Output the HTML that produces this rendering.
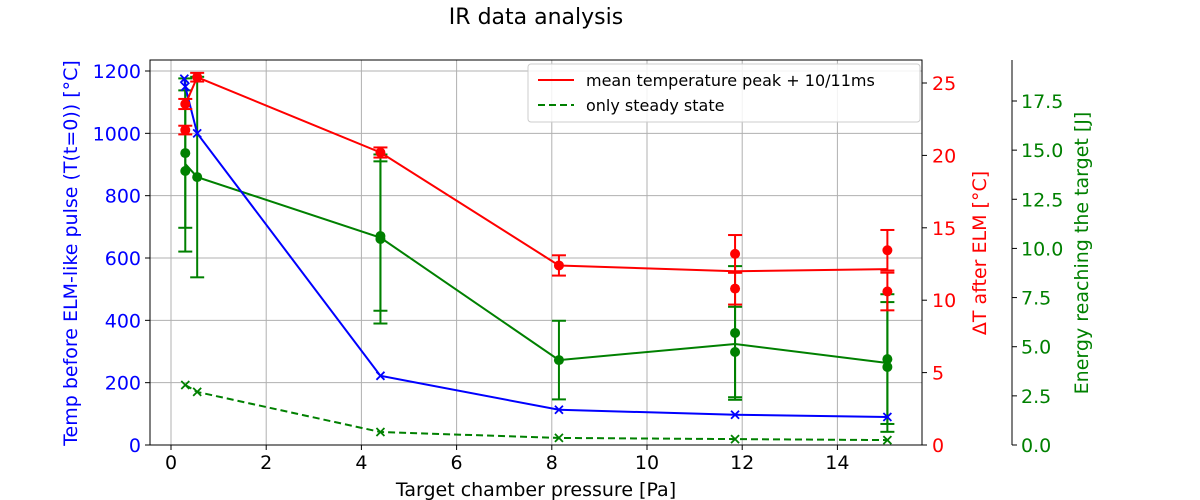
<!DOCTYPE html>
<html><head><meta charset="utf-8"><style>
html,body{margin:0;padding:0;background:#fff;}
svg{display:block;font-family:"DejaVu Sans","Liberation Sans",sans-serif;}
</style></head><body>
<svg id="chart" width="1200" height="500" viewBox="0 0 1200 500" xmlns="http://www.w3.org/2000/svg">
<text x="536" y="24" text-anchor="middle" font-size="22">IR data analysis</text>
<g id="grid"></g>
<g id="marks"></g>
<g id="axes"></g>
<g>
<rect x="528" y="64" width="392" height="58" rx="3" fill="#fff" fill-opacity="0.85" stroke="#ccc"/>
<line x1="538" y1="80" x2="574" y2="80" stroke="red" stroke-width="2"/>
<text x="586" y="86" font-size="16">mean temperature peak + 10/11ms</text>
<line x1="538" y1="105" x2="574" y2="105" stroke="green" stroke-width="2" stroke-dasharray="7,4"/>
<text x="586" y="111" font-size="16">only steady state</text>
</g>
<text x="536" y="496" text-anchor="middle" font-size="19">Target chamber pressure [Pa]</text>
<text transform="translate(77,253) rotate(-90)" text-anchor="middle" font-size="19" fill="blue">Temp before ELM-like pulse (T(t=0)) [°C]</text>
<text transform="translate(986,253) rotate(-90)" text-anchor="middle" font-size="19" fill="red">ΔT after ELM [°C]</text>
<text transform="translate(1088,253) rotate(-90)" text-anchor="middle" font-size="19" fill="green">Energy reaching the target [J]</text>
</svg>
<script>
const xTicks=[0,2,4,6,8,10,12,14];
const tempTicks=[0,200,400,600,800,1000,1200];
const dtTicks=[0,5,10,15,20,25];
const eTicks=["0.0","2.5","5.0","7.5","10.0","12.5","15.0","17.5"];
const blueX=[0.28,0.3,0.55,4.4,8.15,11.85,15.05];
const blueY=[1175,1150,1000,222,113,97,90];
const redPtX=[0.3,0.3,0.55,4.4,8.15,11.85,11.85,15.05,15.05];
const redPtY=[23.55,21.75,25.4,20.2,12.4,13.2,10.8,13.45,10.6];
const redErr=[0.35,0.3,0.3,0.35,0.7,1.3,1.1,1.4,1.3];
const redLineX=[0.3,0.55,4.4,8.15,11.85,15.05];
const redLineY=[23.5,25.4,20.2,12.4,12.0,12.15];
const grnPtX=[0.3,0.3,0.55,4.4,4.4,8.15,11.85,11.85,15.05,15.05];
const grnPtY=[14.85,13.94,13.63,10.63,10.48,4.32,5.7,4.73,4.37,3.97];
const grnErr=[3.8,4.1,5.1,3.8,4.3,2.0,3.4,2.3,3.3,3.3];
const grnLineX=[0.3,0.55,4.4,8.15,11.85,15.05];
const grnLineY=[14.3,13.63,10.55,4.32,5.14,4.17];
const steadyX=[0.3,0.55,4.4,8.15,11.85,15.05];
const steadyY=[3.05,2.7,0.66,0.36,0.3,0.25];

const NS="http://www.w3.org/2000/svg";
const L=150,R=922,T=60,B=445;
const sx=v=>171+v*47.6;
const sy=v=>445-v*(374/1200);
const sr=v=>445-v*(362/25);
const se=v=>445-v*(344/17.5);
function mk(parent,tag,attrs){const e=document.createElementNS(NS,tag);for(const k in attrs)e.setAttribute(k,attrs[k]);parent.appendChild(e);return e;}
const grid=document.getElementById('grid'),marks=document.getElementById('marks'),axes=document.getElementById('axes');
xTicks.forEach(t=>{
 const g=mk(grid,'line',{x1:sx(t),x2:sx(t),y1:T,y2:B,stroke:'#b0b0b0','stroke-width':1});
 
 
 mk(axes,'line',{x1:sx(t),x2:sx(t),y1:B,y2:B+5,stroke:'#000'});
 const tx=mk(axes,'text',{x:sx(t),y:B+24,'text-anchor':'middle','font-size':19});
 tx.textContent=t;
 
 
});
tempTicks.forEach(t=>{
 const g=mk(grid,'line',{x1:L,x2:R,y1:sy(t),y2:sy(t),stroke:'#b0b0b0','stroke-width':1});
 
 
 mk(axes,'line',{x1:L-5,x2:L,y1:sy(t),y2:sy(t),stroke:'#000'});
 const tx=mk(axes,'text',{x:L-9,y:sy(t)+7,'text-anchor':'end','font-size':19,fill:'blue'});
 tx.textContent=t;
 
 
});
dtTicks.forEach(t=>{
 mk(axes,'line',{x1:R,x2:R+5,y1:sr(t),y2:sr(t),stroke:'#000'});
 const tx=mk(axes,'text',{x:R+10,y:sr(t)+7,'font-size':19,fill:'red'});
 tx.textContent=t;
 
 
});
eTicks.forEach(t=>{
 mk(axes,'line',{x1:1012,x2:1017,y1:se(+t),y2:se(+t),stroke:'#000'});
 const tx=mk(axes,'text',{x:1021,y:se(+t)+7,'font-size':19,fill:'green'});
 tx.textContent=t;
 
 
});
mk(axes,'rect',{x:L,y:T,width:R-L,height:B-T,fill:'none',stroke:'#000','stroke-width':1});
mk(axes,'line',{x1:1012,x2:1012,y1:T,y2:B,stroke:'#000'});

function poly(xs,ys,fy,color,dash,name){
 const p=mk(marks,'polyline',{points:xs.map((x,i)=>sx(x)+','+fy(ys[i])).join(' '),fill:'none',stroke:color,'stroke-width':2});
 if(dash)p.setAttribute('stroke-dasharray',dash);
 
 
}
function errs(xs,ys,es,fy,color,name){
 xs.forEach((x,i)=>{
  const cx=sx(x),y1=fy(ys[i]+es[i]),y2=fy(ys[i]-es[i]);
  const g=mk(marks,'g',{stroke:color,'stroke-width':2});
  
  
  mk(g,'line',{x1:cx,x2:cx,y1:y1,y2:y2});
  mk(g,'line',{x1:cx-7,x2:cx+7,y1:y1,y2:y1});
  mk(g,'line',{x1:cx-7,x2:cx+7,y1:y2,y2:y2});
  const c=mk(marks,'circle',{cx:cx,cy:fy(ys[i]),r:5,fill:color});
  
  
 });
}
function xm(xs,ys,fy,color,name){
 xs.forEach((x,i)=>{
  const cx=sx(x),cy=fy(ys[i]);
  const p=mk(marks,'path',{d:`M${cx-4},${cy-4}L${cx+4},${cy+4}M${cx-4},${cy+4}L${cx+4},${cy-4}`,stroke:color,'stroke-width':1.8});
  
  
 });
}
poly(grnLineX,grnLineY,se,'green',null,'energy-line');
errs(grnPtX,grnPtY,grnErr,se,'green','energy');
poly(steadyX,steadyY,se,'green','7,4','steady-state-line');
xm(steadyX,steadyY,se,'green','steady-state');
poly(blueX,blueY,sy,'blue',null,'temp-before-line');
xm(blueX,blueY,sy,'blue','temp-before');
poly(redLineX,redLineY,sr,'red',null,'delta-t-line');
errs(redPtX,redPtY,redErr,sr,'red','delta-t');
</script>
</body></html>
